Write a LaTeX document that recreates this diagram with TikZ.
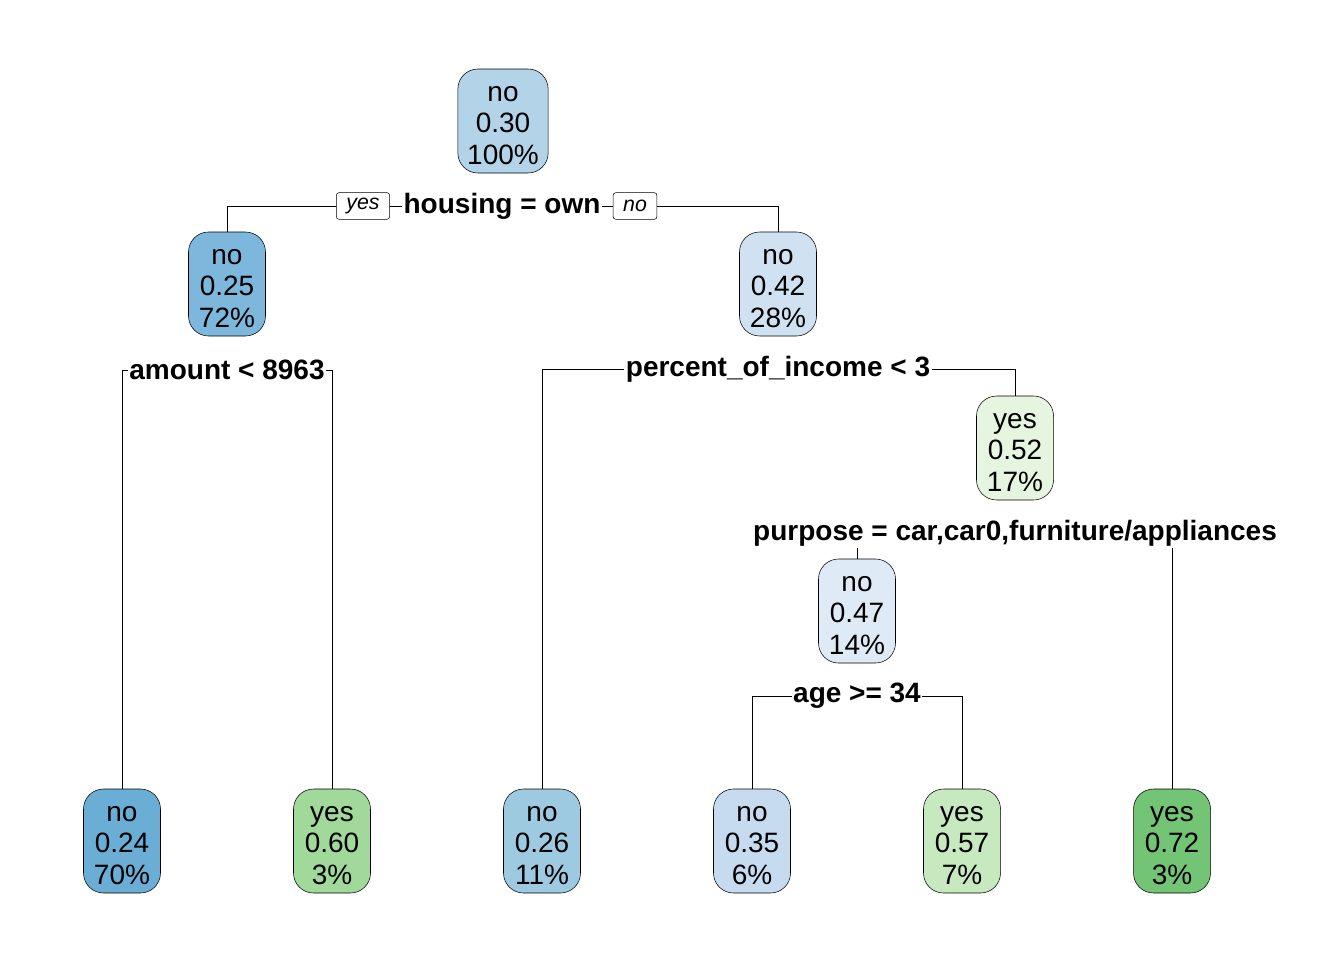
\documentclass[tikz,border=0pt]{standalone}
\usepackage{fontspec}
\setmainfont{Liberation Sans}
\definecolor{c1}{HTML}{B3D3E8}
\definecolor{c2}{HTML}{7DB7DC}
\definecolor{c3}{HTML}{D0E2F2}
\definecolor{c4}{HTML}{6AAED6}
\definecolor{c5}{HTML}{A1D99B}
\definecolor{c6}{HTML}{9ECAE1}
\definecolor{c7}{HTML}{E5F5E0}
\definecolor{c14}{HTML}{DEEBF7}
\definecolor{c15}{HTML}{74C476}
\definecolor{c28}{HTML}{C6DBEF}
\definecolor{c29}{HTML}{C7E9C0}
\begin{document}
\begin{tikzpicture}[x=0.75pt, y=-0.75pt,
    treenode/.style={draw, rounded corners=15pt, align=center,
        font=\fontsize{21}{23.6}\selectfont, minimum width=57.75pt,
        text height=71.25pt, text depth=6.75pt, inner xsep=7pt, inner ysep=0pt},
    split/.style={font=\fontsize{21}{24}\selectfont\bfseries, inner sep=1pt},
    tag/.style={draw, rounded corners=2pt, fill=white,
        font=\fontsize{16}{18}\selectfont\itshape, minimum height=20pt, inner xsep=7.5pt}]
    \useasboundingbox (0,0) rectangle (1344,960);

    % inner nodes
    \node[treenode, fill=c1] (1) at (503,121) {no\\0.30\\100\%};
    \node[treenode, fill=c2] (2) at (227,284) {no\\0.25\\72\%};
    \node[treenode, fill=c3] (3) at (778,284) {no\\0.42\\28\%};
    \node[treenode, fill=c7] (7) at (1015,448) {yes\\0.52\\17\%};
    \node[treenode, fill=c14] (14) at (857,611) {no\\0.47\\14\%};

    % leaves
    \node[treenode, fill=c4] (4) at (122,841) {no\\0.24\\70\%};
    \node[treenode, fill=c5] (5) at (332,841) {yes\\0.60\\3\%};
    \node[treenode, fill=c6] (6) at (542,841) {no\\0.26\\11\%};
    \node[treenode, fill=c28] (28) at (752,841) {no\\0.35\\6\%};
    \node[treenode, fill=c29] (29) at (962,841) {yes\\0.57\\7\%};
    \node[treenode, fill=c15] (15) at (1172,841) {yes\\0.72\\3\%};

    % split labels
    \node[split] (housing) at (502,206) {housing = own};
    \node[split] (amount) at (227,370) {amount < 8963};
    \node[split] (income) at (778,369) {percent\_of\_income < 3};
    \node[split] (purpose) at (1015,533) {purpose = car,car0,furniture/appliances};
    \node[split] (age) at (857,696) {age >= 34};

    \draw (housing) -| (2);
    \draw (housing) -| (3);
    \draw (amount) -| (4);
    \draw (amount) -| (5);
    \draw (income) -| (6);
    \draw (income) -| (7);
    \draw (purpose.south -| 14) -- (14);
    \draw (purpose.south -| 15) -- (15);
    \draw (age) -| (28);
    \draw (age) -| (29);

    \node[tag] (yes) at (363,206) {yes};
    \node[tag] (no) at (635,206) {no};
\end{tikzpicture}
\end{document}
